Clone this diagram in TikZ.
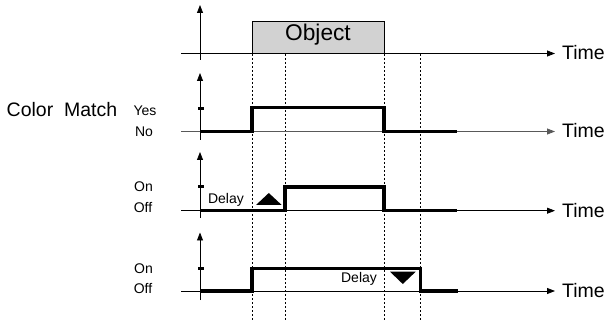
\documentclass[tikz,border=0pt]{standalone}
\usepackage{fontspec}
\setmainfont{Liberation Sans}
\usetikzlibrary{arrows.meta}

\tikzset{
  axis/.style={line width=0.8pt, -{Triangle[length=8pt,width=6pt]}},
  signal/.style={line width=3.6pt},
  levelmark/.style={line width=3pt},
  guide/.style={line width=0.7pt, dash pattern=on 2pt off 2pt},
  big/.style={font=\fontsize{19.5}{22}\selectfont, inner sep=0pt},
  small/.style={font=\fontsize{14}{16}\selectfont, inner sep=0pt},
}

\begin{document}
\begin{tikzpicture}[x=1pt, y=-1pt]
    \useasboundingbox (0,0) rectangle (605,323);

    % time axes
    \coordinate (h1s) at (181,53.5);  \coordinate (h1e) at (555,53.5);
    \coordinate (h2s) at (181,131.5); \coordinate (h2e) at (555,131.5);
    \coordinate (h3s) at (181,210.7); \coordinate (h3e) at (555,210.7);
    \coordinate (h4s) at (181,291);   \coordinate (h4e) at (555,291);
    \coordinate (v1s) at (200,60);    \coordinate (v1e) at (200,5);
    \coordinate (v2s) at (200,140);   \coordinate (v2e) at (200,73);
    \coordinate (v3s) at (200,218);   \coordinate (v3e) at (200,152);
    \coordinate (v4s) at (200,300);   \coordinate (v4e) at (200,232.5);

    % object box
    \node (obj) [draw, line width=0.8pt, fill=gray!35, anchor=south,
        minimum width=132pt, minimum height=31.5pt,
        font=\fontsize{22.7}{26}\selectfont, text height=0.72em, text depth=0pt]
        at (318,53.5) {Object};

    % guide lines
    \draw[guide] (252,54) -- (252,320);
    \draw[guide] (285,54) -- (285,320);
    \draw[guide] (384,54) -- (384,320);
    \draw[guide] (420.5,54) -- (420.5,320);

    \draw[axis] (h1s) -- (h1e);
    \draw[axis, black!65] (h2s) -- (h2e);
    \draw[axis] (h3s) -- (h3e);
    \draw[axis] (h4s) -- (h4e);
    \draw[axis] (v1s) -- (v1e);
    \draw[axis] (v2s) -- (v2e);
    \draw[axis] (v3s) -- (v3e);
    \draw[axis] (v4s) -- (v4e);

    \node (time1) [big, anchor=west] at (562,53) {Time};
    \node (time2) [big, anchor=west] at (562,131) {Time};
    \node (time3) [big, anchor=west] at (562,210.5) {Time};
    \node (time4) [big, anchor=west] at (562,291) {Time};

    % level marks
    \draw[levelmark] (198,109) -- (204,109);
    \draw[levelmark] (198,187) -- (204,187);
    \draw[levelmark] (198,268.3) -- (204,268.3);

    % labels
    \node (match) [big] at (62,110) {Color\ \ Match};
    \node (yes) [small] at (145,110.7) {Yes};
    \node (no) [small] at (144,131.7) {No};
    \node (on1) [small] at (143.5,186.7) {On};
    \node (off1) [small] at (143,207.7) {Off};
    \node (on2) [small] at (143.5,269) {On};
    \node (off2) [small] at (143,288.3) {Off};
    \node (delay1) [small] at (226,200) {Delay};
    \node (delay2) [small] at (359,279) {Delay};

    % signals
    \draw[signal] (200,131.5) -- (252,131.5) -- (252,107.5) -- (384,107.5)
        -- (384,131.5) -- (457,131.5);
    \draw[signal] (200,210.7) -- (285,210.7) -- (285,187) -- (384,187)
        -- (384,210.7) -- (457,210.7);
    \draw[signal] (200,291) -- (252,291) -- (252,268.3) -- (420.5,268.3)
        -- (420.5,291) -- (458,291);

    % delay marks
    \fill (256,205) -- (281.7,205) -- (268.8,193) -- cycle;
    \fill (390,271.7) -- (415.7,271.7) -- (402.8,284) -- cycle;
\end{tikzpicture}
\end{document}
